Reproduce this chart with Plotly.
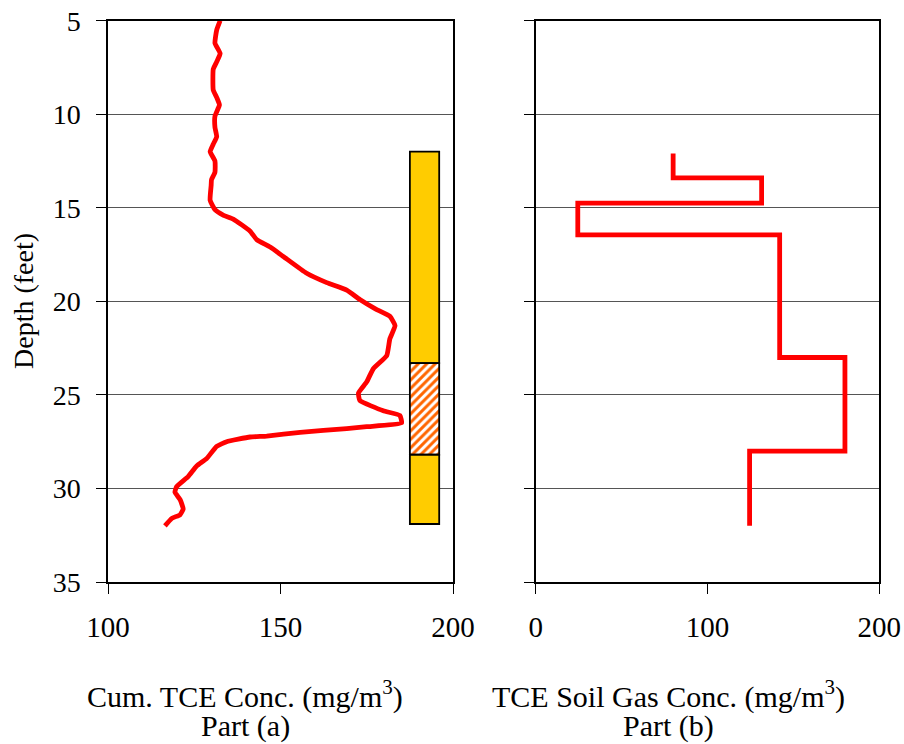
import plotly.graph_objects as go

# Part (a): cumulative TCE concentration vs depth
cum_depth = [5.0, 5.5, 6.2, 6.75, 7.2, 7.6, 8.7, 9.1, 9.5, 10.1, 10.7, 11.2, 11.6, 12.0, 12.5,
             13.1, 13.5, 13.8, 14.6, 15.1, 15.4, 15.6, 16.25, 16.7, 17.1, 17.6, 18.5, 19.0,
             19.4, 19.9, 20.4, 20.8, 21.3, 22.0, 22.9, 23.6, 24.3, 24.9, 25.3, 25.85, 26.1,
             26.5, 26.7, 26.8, 27.0, 27.2, 27.25, 27.5, 27.75, 28.4, 28.8, 29.35, 29.9, 30.2,
             30.6, 31.1, 31.4, 31.6, 32.0]
cum_conc = [132.5, 131.5, 131.0, 132.5, 131.5, 130.5, 130.5, 131.5, 132.3, 131.0, 131.0, 131.5,
            130.5, 129.6, 131.0, 131.0, 130.0, 129.9, 129.6, 131.0, 133.5, 136.3, 141.2, 143.1,
            147.0, 150.8, 157.6, 163.4, 169.2, 173.0, 177.5, 181.7, 183.2, 181.7, 180.8, 176.9,
            175.0, 172.6, 173.0, 179.8, 184.6, 185.1, 175.0, 169.2, 155.7, 146.0, 141.2, 134.4,
            131.5, 128.6, 125.7, 123.3, 119.9, 119.4, 120.9, 121.8, 120.9, 118.5, 116.5]

# Screened interval column (depth top / bottom of each segment)
col_x = 191.75
col_width = 8.5
col_top = [12.0, 23.3, 28.2]
col_bottom = [23.3, 28.2, 31.9]
col_hatched = [False, True, False]

# Part (b): TCE soil gas concentration (step profile)
gas_depth = [12.1, 13.4, 14.75, 16.45, 23.0, 28.0, 32.0]
gas_conc = [80, 131.5, 24.5, 142, 180, 124.5, 124.5]

y_ticks = [5, 10, 15, 20, 25, 30, 35]
x1_ticks = [100, 150, 200]
x2_ticks = [0, 100, 200]

FONT = "Liberation Serif"
RED = "#FF0000"

fig = go.Figure()

for top, bot, hatch in zip(col_top, col_bottom, col_hatched):
    if hatch:
        marker = dict(color="white", line=dict(color="black", width=1.8),
                      pattern=dict(shape="/", fgcolor="#FF6600", bgcolor="white",
                                   fgopacity=1, size=6, solidity=0.5, fillmode="replace"))
    else:
        marker = dict(color="#FFCC00", line=dict(color="black", width=1.8))
    fig.add_trace(go.Bar(x=[col_x], y=[bot - top], base=[top], width=[col_width],
                         marker=marker, xaxis="x", yaxis="y", showlegend=False,
                         hoverinfo="skip"))

fig.add_trace(go.Scatter(x=cum_conc, y=cum_depth, mode="lines",
                         line=dict(color=RED, width=4.8, shape="spline", smoothing=0.4),
                         xaxis="x", yaxis="y", showlegend=False))

fig.add_trace(go.Scatter(x=gas_conc, y=gas_depth, mode="lines",
                         line=dict(color=RED, width=4.8, shape="vh"),
                         xaxis="x2", yaxis="y2", showlegend=False))

W, H = 904, 744


def px(x):
    return x / W


def py(y):
    return 1 - y / H


ydom = [py(582), py(20.7)]

common_y = dict(range=[35, 5], tickvals=y_ticks, showgrid=True, gridcolor="#555555",
                gridwidth=1, showline=True, linecolor="black", linewidth=1.5, mirror=True,
                ticks="outside", ticklen=10, tickcolor="black", zeroline=False,
                automargin=False, ticklabeloverflow="allow",
                domain=ydom, tickfont=dict(family=FONT, size=28, color="black"))
common_x = dict(showgrid=False, showline=True, linecolor="black", linewidth=1.5,
                mirror=True, ticks="outside", ticklen=10, tickcolor="black", zeroline=False,
                automargin=False, ticklabeloverflow="allow",
                tickfont=dict(family=FONT, size=29, color="black"), ticklabelstandoff=8)

fig.update_layout(
    width=W, height=H,
    margin=dict(l=0, r=0, t=0, b=0, pad=0, autoexpand=False),
    paper_bgcolor="white", plot_bgcolor="white",
    barmode="overlay",
    xaxis=dict(common_x, range=[100, 200], tickvals=x1_ticks, domain=[px(108), px(453)],
               anchor="y"),
    yaxis=dict(common_y, anchor="x", ticklabelstandoff=10),
    xaxis2=dict(common_x, range=[0, 200], tickvals=x2_ticks,
                domain=[px(535.7), px(879.3)], anchor="y2"),
    yaxis2=dict(common_y, anchor="x2", showticklabels=False),
)

ann_font = dict(family=FONT, size=30, color="black")
annotations = [
    dict(text="Cum. TCE Conc. (mg/m<sup>3</sup>)", x=px(245), y=py(694)),
    dict(text="Part (a)", x=px(245), y=py(726)),
    dict(text="TCE Soil Gas Conc. (mg/m<sup>3</sup>)", x=px(668), y=py(694)),
    dict(text="Part (b)", x=px(668), y=py(726)),
]
for a in annotations:
    fig.add_annotation(xref="paper", yref="paper", showarrow=False, font=ann_font,
                       xanchor="center", yanchor="middle", **a)
fig.add_annotation(text="Depth (feet)", xref="paper", yref="paper", x=px(23),
                   y=py(301), showarrow=False, textangle=-90,
                   font=dict(family=FONT, size=28, color="black"),
                   xanchor="center", yanchor="middle")

fig.write_html("out.html", config={"displayModeBar": False},
               post_script="document.body.style.margin='0';"
                           "document.body.style.overflow='hidden';")
